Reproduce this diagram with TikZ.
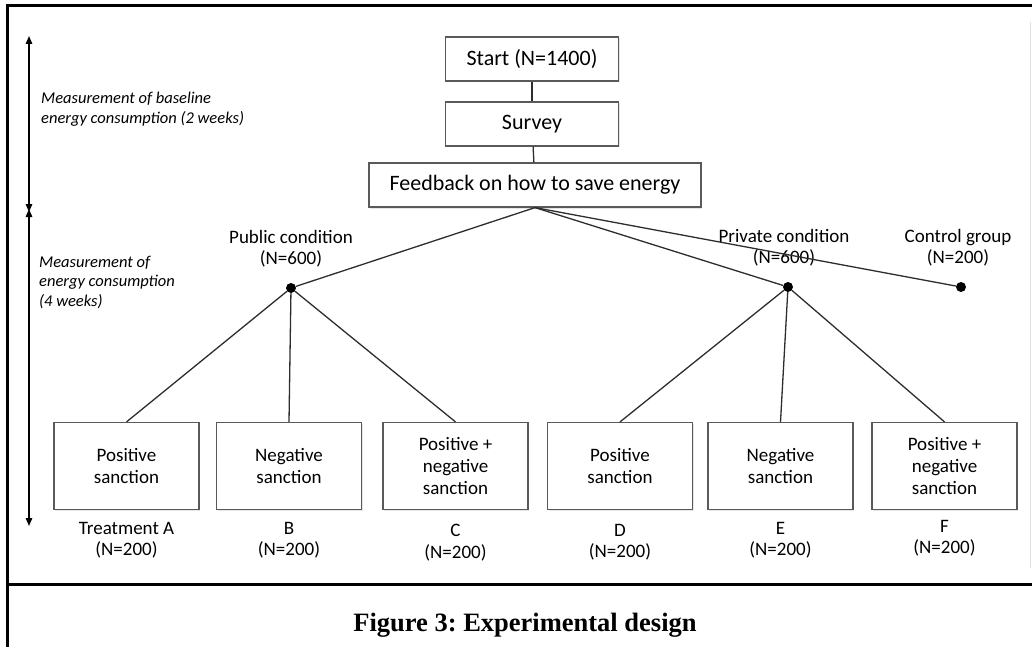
\documentclass[tikz,border=0pt]{standalone}
\usepackage{fontspec}
\setmainfont{Carlito}
\newfontfamily\capfont{Liberation Serif}
\usetikzlibrary{arrows.meta,positioning,shadows}
\definecolor{BoxGray}{RGB}{90,90,90}
\definecolor{LineGray}{RGB}{45,45,45}
\definecolor{ShadeGray}{RGB}{205,205,205}
\definecolor{EdgeGray}{RGB}{225,225,225}
\tikzset{
  stage/.style={draw=BoxGray,line width=1.2pt,fill=white,minimum height=44pt,
    minimum width=173pt,align=center,font=\fontsize{22}{26}\selectfont,
    drop shadow={shadow xshift=1pt,shadow yshift=-1.5pt,fill=ShadeGray}},
  arm/.style={draw=BoxGray,line width=1.2pt,fill=white,minimum height=87pt,
    minimum width=145pt,align=center,font=\fontsize{19}{22}\selectfont,
    drop shadow={shadow xshift=1pt,shadow yshift=-1.5pt,fill=ShadeGray}},
  tag/.style={align=center,inner sep=0pt,font=\fontsize{19}{21.5}\selectfont},
  split/.style={circle,fill=black,inner sep=0pt,minimum size=10pt},
  period/.style={align=left,inner sep=0pt,font=\fontsize{16.5}{19.5}\selectfont\itshape},
  link/.style={LineGray,line width=1.3pt},
  span/.style={{Triangle[length=8pt,width=6.5pt]}-{Triangle[length=8pt,width=6.5pt]},line width=1.4pt,black},
  frame/.style={line width=3pt,black}
}

\begin{document}
\frenchspacing
\begin{tikzpicture}[x=1pt,y=-1pt]
  \useasboundingbox (0,0) rectangle (1032,647);
  % outer frame
  \draw[frame] (1032,6) -- (7,6) -- (7,647);
  \draw[frame] (7,584) -- (1032,584);
  \draw[EdgeGray,line width=1pt] (1030,22) -- (1030,568);

  % time periods
  \coordinate (t0) at (29,36);
  \coordinate (t1) at (29,212);
  \coordinate (t2) at (29,209);
  \coordinate (t3) at (29,526);
  \draw[span] (t0) -- (t1);
  \draw[span] (t2) -- (t3);
  \node[period,anchor=west] (basetxt) at (41,109) {Measurement of baseline\\energy consumption (2 weeks)};
  \node[period,anchor=west] (maintxt) at (39,282) {Measurement of\\energy consumption\\(4 weeks)};

  % top of the tree
  \node[stage] (start) at (532,59) {Start (N=1400)};
  \node[stage] (survey) at (532,124) {Survey};
  \node[stage,minimum width=332pt] (feedback) at (535,185) {Feedback on how to save energy};
  \draw[link] (start) -- (survey);
  \draw[link] (survey) -- (feedback);

  % conditions
  \node[split] (pub) at (291,288) {};
  \node[split] (priv) at (788,287) {};
  \node[split] (ctrl) at (961,287) {};
  \node[tag,above=15pt of pub] (publbl) {Public condition\\(N=600)};
  \node[tag,above=15pt of priv,xshift=-4pt] (privlbl) {Private condition\\(N=600)};
  \node[tag,above=15pt of ctrl,xshift=-3pt] (ctrllbl) {Control group\\(N=200)};
  \draw[link] (feedback.south) -- (pub);
  \draw[link] (feedback.south) -- (priv);
  \draw[link] (feedback.south) -- (ctrl);

  % treatments
  \node[arm] (armA) at (126.5,466) {Positive\\sanction};
  \node[arm] (armB) at (289,466) {Negative\\sanction};
  \node[arm] (armC) at (455.5,466) {Positive +\\negative\\sanction};
  \node[arm] (armD) at (620,466) {Positive\\sanction};
  \node[arm] (armE) at (780.5,466) {Negative\\sanction};
  \node[arm] (armF) at (944.5,466) {Positive +\\negative\\sanction};
  \foreach \a in {A,B,C} \draw[link] (pub) -- (arm\a.north);
  \foreach \a in {D,E,F} \draw[link] (priv) -- (arm\a.north);

  \node[tag,below=12pt of armA] (lblA) {Treatment A\\(N=200)};
  \node[tag,below=12pt of armB] (lblB) {B\\(N=200)};
  \node[tag,below=14pt of armC] (lblC) {C\\(N=200)};
  \node[tag,below=14pt of armD] (lblD) {D\\(N=200)};
  \node[tag,below=12pt of armE] (lblE) {E\\(N=200)};
  \node[tag,below=10pt of armF] (lblF) {F\\(N=200)};

  % caption
  \node[font=\fontsize{26.5}{30}\selectfont\capfont\bfseries] (caption) at (525,625) {Figure 3: Experimental design};
\end{tikzpicture}
\end{document}
